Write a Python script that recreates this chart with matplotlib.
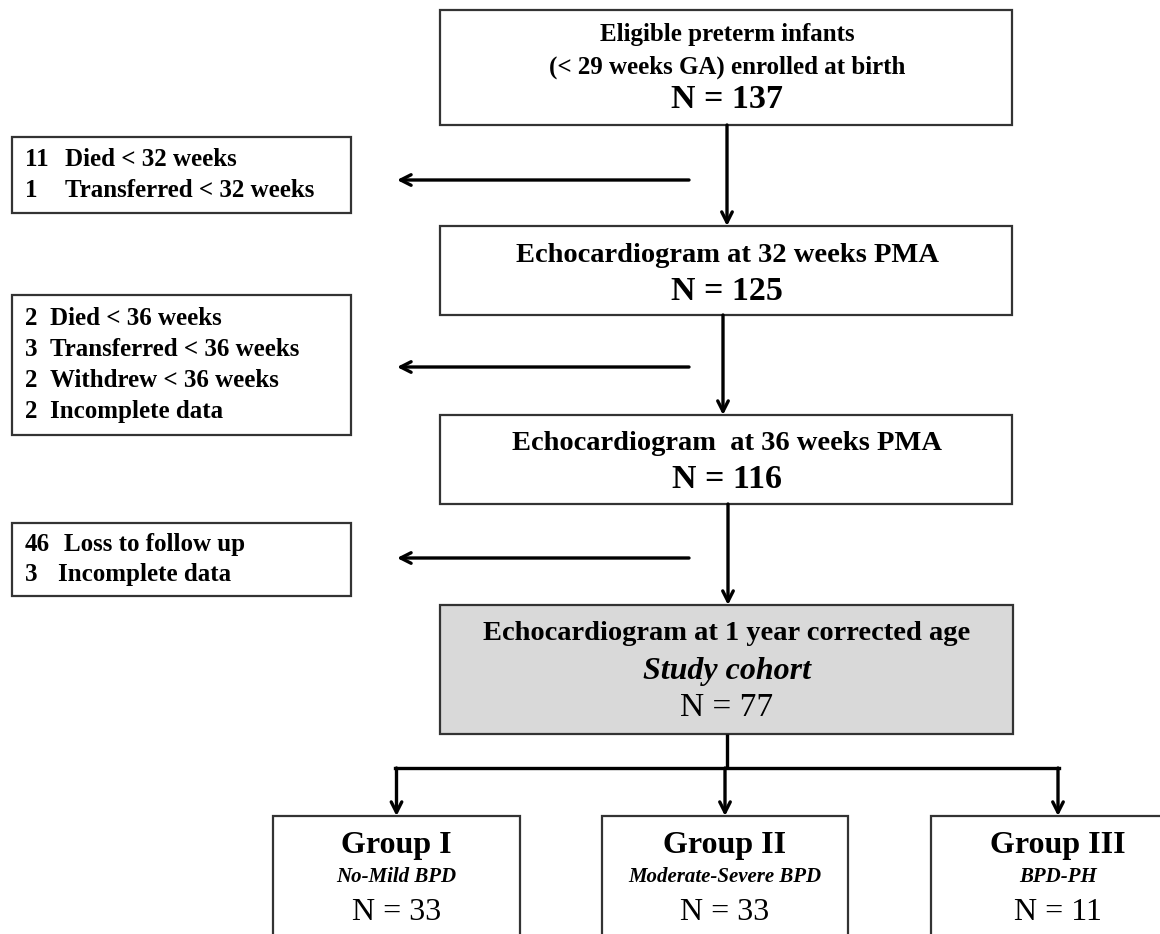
import matplotlib.pyplot as plt
from matplotlib.patches import Rectangle

# flowchart content
main_titles = [
    ["Eligible preterm infants", "(< 29 weeks GA) enrolled at birth"],
    ["Echocardiogram at 32 weeks PMA"],
    ["Echocardiogram  at 36 weeks PMA"],
    ["Echocardiogram at 1 year corrected age"],
]
main_counts = [137, 125, 116, 77]

excl_counts = [[11, 1], [2, 3, 2, 2], [46, 3]]
excl_labels = [
    ["Died < 32 weeks", "Transferred < 32 weeks"],
    ["Died < 36 weeks", "Transferred < 36 weeks", "Withdrew < 36 weeks", "Incomplete data"],
    ["Loss to follow up", "Incomplete data"],
]

group_names = ["Group I", "Group II", "Group III"]
group_desc = ["No-Mild BPD", "Moderate-Severe BPD", "BPD-PH"]
group_counts = [33, 33, 11]

# layout (pixels, y down)
main_boxes = [(440, 10, 1012, 125), (440, 226, 1012, 315), (440, 415, 1012, 504), (440, 605, 1013, 734)]
excl_boxes = [(12, 137, 351, 213), (12, 295, 351, 435), (12, 523, 351, 596)]
excl_arrow_y = [180, 367, 558]
excl_label_x = [[65, 65], [50, 50, 50, 50], [64, 58]]
group_boxes = [(273, 816, 520, 960), (602, 816, 848, 960), (931, 816, 1180, 960)]
arrow_x = [727, 723, 728]

FONT = "Liberation Serif"
EDGE = "#333333"

fig = plt.figure(figsize=(11.6, 9.34), dpi=100)
ax = fig.add_axes([0, 0, 1, 1])
ax.set_xlim(0, 1160)
ax.set_ylim(934, 0)
ax.axis("off")


def box(x0, y0, x1, y1, fill="white"):
    ax.add_patch(Rectangle((x0, y0), x1 - x0, y1 - y0, facecolor=fill,
                           edgecolor=EDGE, lw=1.6, zorder=2))


def arrow(x0, y0, x1, y1):
    ax.annotate("", xy=(x1, y1), xytext=(x0, y0),
                arrowprops=dict(arrowstyle="->,head_length=0.75,head_width=0.38",
                                lw=2.4, color="black", shrinkA=0, shrinkB=0),
                zorder=3)


# main column
for i, (x0, y0, x1, y1) in enumerate(main_boxes):
    box(x0, y0, x1, y1, fill="#d9d9d9" if i == 3 else "white")
    cx = 727
    if i == 0:
        ax.text(cx, 35, main_titles[i][0], ha="center", va="center", family=FONT,
                fontsize=18, fontweight="bold")
        ax.text(cx, 67, main_titles[i][1], ha="center", va="center", family=FONT,
                fontsize=18, fontweight="bold")
        ax.text(cx, 99, f"N = {main_counts[i]}", ha="center", va="center", family=FONT,
                fontsize=24.5, fontweight="bold")
    elif i < 3:
        ax.text(cx, y0 + 29, main_titles[i][0], ha="center", va="center", family=FONT,
                fontsize=20.5, fontweight="bold")
        ax.text(cx, y0 + 65, f"N = {main_counts[i]}", ha="center", va="center", family=FONT,
                fontsize=24.5, fontweight="bold")
    else:
        ax.text(cx, y0 + 29, main_titles[i][0], ha="center", va="center", family=FONT,
                fontsize=20.5, fontweight="bold")
        ax.text(cx, y0 + 66, "Study cohort", ha="center", va="center", family=FONT,
                fontsize=23, fontweight="bold", style="italic")
        ax.text(cx, y0 + 103, f"N = {main_counts[i]}", ha="center", va="center", family=FONT,
                fontsize=24)

# arrows between main boxes
for i in range(3):
    arrow(arrow_x[i], main_boxes[i][3], arrow_x[i], main_boxes[i + 1][1])

# exclusion boxes
for k, (x0, y0, x1, y1) in enumerate(excl_boxes):
    box(x0, y0, x1, y1)
    n = len(excl_counts[k])
    step = 30.7
    top = (y0 + y1) / 2 - step * (n - 1) / 2
    for j in range(n):
        yy = top + step * j
        ax.text(25, yy, str(excl_counts[k][j]), ha="left", va="center", family=FONT,
                fontsize=18, fontweight="bold")
        ax.text(excl_label_x[k][j], yy, excl_labels[k][j], ha="left", va="center",
                family=FONT, fontsize=18, fontweight="bold")
    arrow(689, excl_arrow_y[k], 397, excl_arrow_y[k])

# branching to groups
ax.plot([727, 727], [734, 768], color="black", lw=2.4, solid_capstyle="butt", zorder=3)
gx = [(b[0] + b[2]) / 2 if i < 2 else 1058 for i, b in enumerate(group_boxes)]
ax.plot([gx[0] - 1.2, gx[2] + 1.2], [768, 768], color="black", lw=2.4, zorder=3)
for i, (x0, y0, x1, y1) in enumerate(group_boxes):
    box(x0, y0, x1, y1)
    arrow(gx[i], 768, gx[i], y0)
    ax.text(gx[i], 846, group_names[i], ha="center", va="center", family=FONT,
            fontsize=23, fontweight="bold")
    ax.text(gx[i], 877, group_desc[i], ha="center", va="center", family=FONT,
            fontsize=15, fontweight="bold", style="italic")
    ax.text(gx[i], 912, f"N = {group_counts[i]}", ha="center", va="center", family=FONT,
            fontsize=23)

fig.savefig("out.png", dpi=100)
